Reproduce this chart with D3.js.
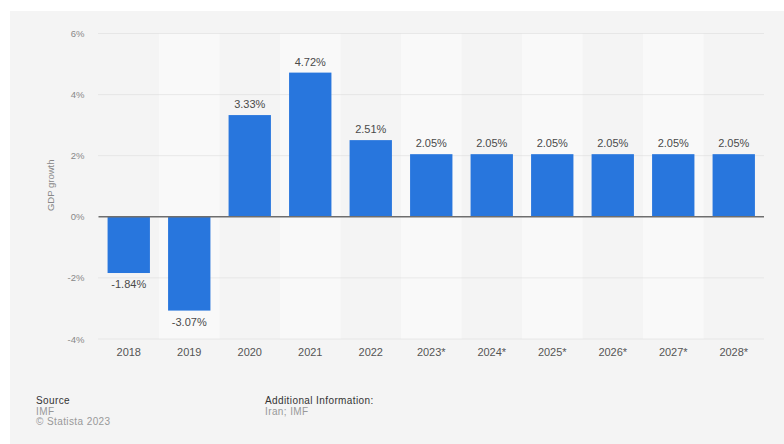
<!DOCTYPE html>
<html>
<head>
<meta charset="utf-8">
<script src="https://cdn.jsdelivr.net/npm/d3@7"></script>
<style>
  body { margin: 0; background: #fff; }
  svg { display: block; font-family: "Liberation Sans", Arial, sans-serif; }
</style>
</head>
<body>
<svg id="chart" width="784" height="444"></svg>
<script>
// chart data
var years = ["2018", "2019", "2020", "2021", "2022", "2023*", "2024*", "2025*", "2026*", "2027*", "2028*"];
var growth = [-1.84, -3.07, 3.33, 4.72, 2.51, 2.05, 2.05, 2.05, 2.05, 2.05, 2.05];
var yTicks = [-4, -2, 0, 2, 4, 6];

(function() {
	"use strict";

	var svg = d3.select("#chart");

	var margin = {left: 98.5, right: 20, top: 33.5, bottom: 105},
		width = 784 - margin.left - margin.right,
		height = 444 - margin.top - margin.bottom;

	// grey panel behind everything
	svg.append("rect")
		.attr("x", 10).attr("y", 11)
		.attr("width", 774).attr("height", 433)
		.attr("fill", "#f4f4f4");

	var x = d3.scaleBand().domain(years).range([0, width]).paddingInner(0.3).paddingOuter(0.15),
		band = d3.scaleBand().domain(years).range([0, width]),
		y = d3.scaleLinear().domain([-4, 6]).range([height, 0]);

	var g = svg.append("g").attr("transform", "translate(" + margin.left + "," + margin.top + ")");

	// alternate column stripes
	g.selectAll(".stripe").data(years.filter(function(d, i) { return i % 2 == 1; }))
		.enter().append("rect")
			.attr("class", "stripe")
			.attr("x", function(d) { return band(d); })
			.attr("y", 0)
			.attr("width", band.bandwidth())
			.attr("height", height)
			.attr("fill", "#f9f9f9");

	// dotted grid
	g.selectAll(".grid").data(yTicks.filter(function(d) { return d != 0; }))
		.enter().append("line")
			.attr("class", "grid")
			.attr("x1", 0).attr("x2", width)
			.attr("y1", function(d) { return y(d); })
			.attr("y2", function(d) { return y(d); })
			.attr("stroke", "#d8d8d8")
			.attr("stroke-width", 1)
			.attr("stroke-dasharray", "1,1");

	var yAxis = g.append("g")
		.call(d3.axisLeft(y).tickValues(yTicks).tickSize(0).tickPadding(14)
			.tickFormat(function(d) { return d + "%"; }));
	yAxis.select(".domain").remove();
	yAxis.selectAll("text").attr("fill", "#888").attr("font-size", 9.5).attr("font-family", null);

	svg.append("text")
		.attr("transform", "translate(54," + (margin.top + height / 2 - 1) + ") rotate(-90)")
		.attr("text-anchor", "middle")
		.attr("fill", "#888")
		.attr("font-size", 9.5)
		.text("GDP growth");

	// bars
	g.selectAll(".bar").data(growth)
		.enter().append("rect")
			.attr("class", "bar")
			.attr("x", function(d, i) { return x(years[i]); })
			.attr("y", function(d) { return y(Math.max(0, d)); })
			.attr("width", x.bandwidth())
			.attr("height", function(d) { return Math.abs(y(d) - y(0)); })
			.attr("fill", "#2876dd");

	// zero line
	g.append("line")
		.attr("x1", 0).attr("x2", width)
		.attr("y1", y(0)).attr("y2", y(0))
		.attr("stroke", "#6e6e6e")
		.attr("stroke-width", 1.6);

	// value labels
	g.selectAll(".val").data(growth)
		.enter().append("text")
			.attr("class", "val")
			.attr("x", function(d, i) { return x(years[i]) + x.bandwidth() / 2; })
			.attr("y", function(d) { return d >= 0 ? y(d) - 7 : y(d) + 15; })
			.attr("text-anchor", "middle")
			.attr("fill", "#4a4a4a")
			.attr("font-size", 11)
			.text(function(d) { return d.toFixed(2) + "%"; });

	var xAxis = g.append("g")
		.attr("transform", "translate(0," + height + ")")
		.call(d3.axisBottom(band).tickSize(0).tickPadding(9));
	xAxis.select(".domain").remove();
	xAxis.selectAll("text").attr("fill", "#555").attr("font-size", 11).attr("font-family", null);

	// footer
	var foot = svg.append("g").attr("font-size", 10).attr("letter-spacing", 0.4);
	foot.append("text").attr("x", 36).attr("y", 404).attr("fill", "#333").text("Source");
	foot.append("text").attr("x", 36).attr("y", 414.5).attr("fill", "#999").text("IMF");
	foot.append("text").attr("x", 36).attr("y", 425).attr("fill", "#999").text("\u00a9 Statista 2023");
	foot.append("text").attr("x", 265).attr("y", 404).attr("fill", "#333").text("Additional Information:");
	foot.append("text").attr("x", 265).attr("y", 414.5).attr("fill", "#999").text("Iran; IMF");
})();
</script>
</body>
</html>
